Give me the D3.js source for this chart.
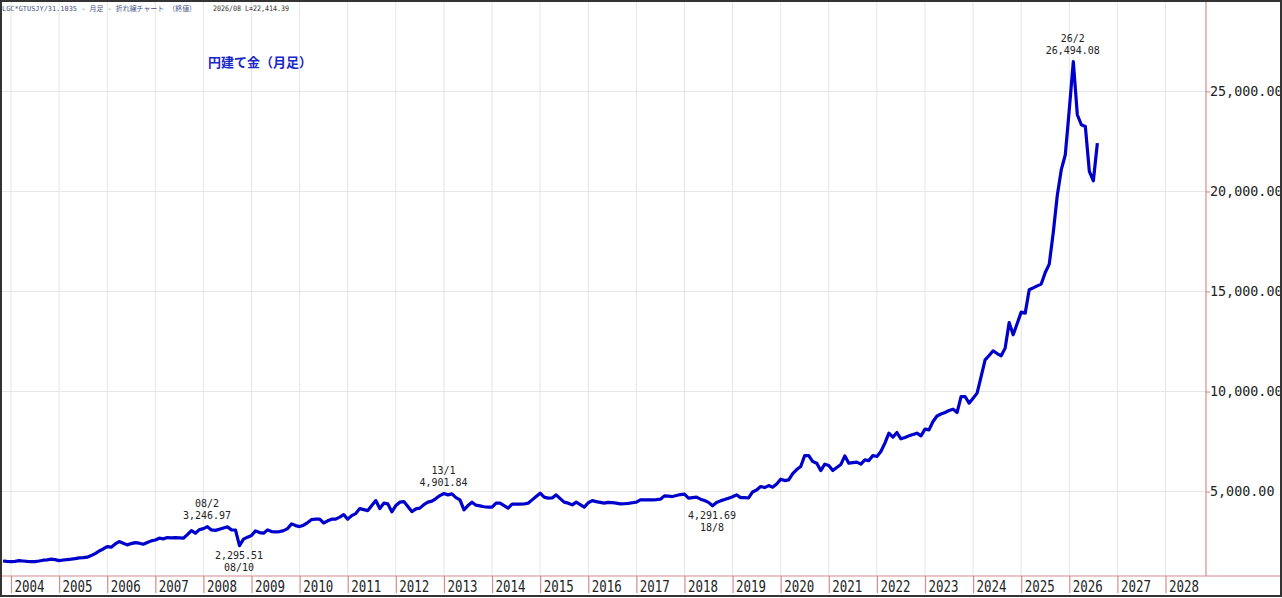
<!DOCTYPE html>
<html>
<head>
<meta charset="utf-8">
<script src="https://cdn.jsdelivr.net/npm/d3@7"></script>
<style>
  body { margin: 0; background: #fff; }
</style>
</head>
<body>
<svg width="1282" height="598"></svg>
<script>
// 月足終値 (円/g)、2003/11 から 2026/08 まで
const firstYear = 2003, firstMonth = 11;
const closes = [
  1530, 1510,
  1500, 1510, 1550, 1530, 1510, 1500, 1500, 1530, 1570, 1590, 1620, 1600, // 2004
  1550, 1580, 1600, 1620, 1650, 1685, 1700, 1720, 1800, 1900, 2030, 2130, // 2005
  2250, 2220, 2380, 2500, 2420, 2335, 2400, 2450, 2420, 2370, 2450, 2535, // 2006
  2580, 2670, 2635, 2700, 2690, 2700, 2690, 2670, 2850, 3050, 2920, 3100, // 2007
  3150, 3247, 3085, 3060, 3120, 3180, 3235, 3085, 3080, 2296, 2620, 2720, // 2008
  2800, 3035, 2950, 2920, 3085, 3000, 2990, 3000, 3050, 3150, 3385, 3300, // 2009
  3250, 3320, 3450, 3600, 3620, 3620, 3430, 3540, 3620, 3620, 3720, 3850, // 2010
  3620, 3800, 3900, 4150, 4100, 4050, 4300, 4550, 4150, 4420, 4385, 3985, // 2011
  4300, 4470, 4500, 4250, 4000, 4135, 4170, 4350, 4470, 4520, 4650, 4800, // 2012
  4902, 4835, 4885, 4700, 4585, 4085, 4300, 4470, 4320, 4285, 4240, 4220, // 2013
  4220, 4420, 4420, 4300, 4170, 4370, 4370, 4370, 4380, 4420, 4585, 4750, // 2014
  4920, 4720, 4670, 4680, 4835, 4650, 4470, 4420, 4335, 4470, 4350, 4220, // 2015
  4440, 4550, 4500, 4460, 4420, 4460, 4450, 4420, 4385, 4390, 4410, 4440, // 2016
  4470, 4585, 4585, 4590, 4585, 4600, 4620, 4785, 4770, 4750, 4800, 4850, // 2017
  4870, 4670, 4700, 4720, 4620, 4550, 4460, 4292, 4450, 4535, 4600, 4670, // 2018
  4740, 4835, 4700, 4700, 4680, 4980, 5080, 5250, 5200, 5300, 5220, 5380, // 2019
  5620, 5550, 5585, 5900, 6100, 6250, 6800, 6800, 6500, 6420, 6050, 6370, // 2020
  6300, 6050, 6200, 6350, 6785, 6420, 6450, 6470, 6370, 6585, 6550, 6800, // 2021
  6750, 7000, 7420, 7920, 7720, 7950, 7635, 7700, 7785, 7850, 7920, 7785, // 2022
  8120, 8085, 8500, 8780, 8880, 8950, 9050, 9120, 8950, 9750, 9750, 9420, // 2023
  9665, 9920, 10750, 11585, 11800, 12035, 11900, 11785, 12170, 13450, 12835, 13400, // 2024
  13970, 13920, 15085, 15180, 15280, 15370, 15950, 16370, 17950, 19800, 21085, 21835, // 2025
  24100, 26494, 23835, 23335, 23250, 21000, 20535, 22414 // 2026
];
const yearTicks = d3.range(2004, 2029);
const priceTicks = [5000, 10000, 15000, 20000, 25000];
// 高値・安値の注記
const noteDates = ["08/2", "08/10", "13/1", "18/8", "26/2"];
const noteValues = [3246.97, 2295.51, 4901.84, 4291.69, 26494.08];
const noteSides = ["up", "down", "up", "down", "up"];

const headerText = "LGC*GTUSJY/31.1035 - 月足 - 折れ線チャート （終値）";
const headerLast = "2026/08 L=22,414.39";
const titleText = "円建て金（月足）";

const svg = d3.select("svg");
const plotL = 2, plotR = 1206, plotT = 2, plotB = 576;
const red = "#d48c8c";

// 2004年1月 = 0 の月番号
const monthIndex = (yr, m) => (yr - 2004) * 12 + (m - 1);
const offset = monthIndex(firstYear, firstMonth);

const x = d3.scaleLinear().domain([-2.245, 298.1]).range([plotL, plotR]);
const y = d3.scaleLinear().domain([780, 29470]).range([plotB, plotT]);

// グリッド
svg.append("g").selectAll("line")
  .data(yearTicks).enter().append("line")
  .attr("x1", d => x(monthIndex(d, 1))).attr("x2", d => x(monthIndex(d, 1)))
  .attr("y1", plotT).attr("y2", plotB)
  .attr("stroke", "#e6e6e6").attr("stroke-width", 1);
svg.append("g").selectAll("line")
  .data(priceTicks).enter().append("line")
  .attr("x1", plotL).attr("x2", plotR)
  .attr("y1", d => y(d)).attr("y2", d => y(d))
  .attr("stroke", "#e6e6e6").attr("stroke-width", 1);

// 枠線
svg.append("line").attr("x1", plotR).attr("x2", plotR).attr("y1", 0).attr("y2", plotB)
  .attr("stroke", red).attr("stroke-width", 1.2);
svg.append("line").attr("x1", 0).attr("x2", 1282).attr("y1", plotB).attr("y2", plotB)
  .attr("stroke", red).attr("stroke-width", 1.2);

// X軸 (年)
const xAxis = svg.append("g")
  .attr("transform", `translate(0, ${plotB})`)
  .call(d3.axisBottom(x)
    .tickValues(yearTicks.map(d => monthIndex(d, 1)))
    .tickSize(17)
    .tickFormat((d, i) => yearTicks[i]));
xAxis.select(".domain").remove();
xAxis.selectAll(".tick line").attr("stroke", red).attr("stroke-width", 1.2);
xAxis.selectAll(".tick text")
  .attr("x", 3).attr("y", 5).attr("dy", "0.71em")
  .attr("text-anchor", "start")
  .attr("textLength", 30).attr("lengthAdjust", "spacingAndGlyphs")
  .style("font-family", "'DejaVu Sans Mono', monospace")
  .style("font-size", "15px").attr("fill", "#222");

// Y軸 (右)
const yAxis = svg.append("g")
  .attr("transform", `translate(${plotR}, 0)`)
  .call(d3.axisRight(y)
    .tickValues(priceTicks)
    .tickSize(4).tickPadding(0)
    .tickFormat(d3.format(",.2f")));
yAxis.select(".domain").remove();
yAxis.selectAll(".tick line").attr("stroke", "#b88").attr("stroke-width", 1);
yAxis.selectAll(".tick text")
  .style("font-family", "'DejaVu Sans Mono', monospace")
  .style("font-size", "13.4px").attr("fill", "#222");

// 折れ線
svg.append("clipPath").attr("id", "plot")
  .append("rect").attr("x", plotL).attr("y", plotT)
  .attr("width", plotR - plotL).attr("height", plotB - plotT);
const line = d3.line()
  .x((d, k) => x(k + offset))
  .y(d => y(d));
svg.append("path")
  .datum(closes)
  .attr("clip-path", "url(#plot)")
  .attr("d", line)
  .attr("fill", "none")
  .attr("stroke", "#0000cc")
  .attr("stroke-width", 3.2)
  .attr("stroke-linejoin", "round");

// 注記
const fmt = d3.format(",.2f");
noteDates.forEach((dt, i) => {
  const parts = dt.split("/");
  const yr = 2000 + (+parts[0]), mo = +parts[1];
  const px = x(monthIndex(yr, mo)) - 0.5;
  const py = y(noteValues[i]);
  const lines = noteSides[i] === "up"
    ? [[dt, py - 19.5], [fmt(noteValues[i]), py - 8]]
    : [[fmt(noteValues[i]), py + 13], [dt, py + 25]];
  lines.forEach(([t, ty]) => {
    svg.append("text")
      .attr("x", px).attr("y", ty)
      .attr("text-anchor", "middle")
      .attr("textLength", t.length * 6).attr("lengthAdjust", "spacingAndGlyphs")
      .style("font-family", "'DejaVu Sans Mono', monospace")
      .style("font-size", "11px")
      .attr("fill", "#222")
      .text(t);
  });
});

// 見出し
svg.append("text")
  .attr("x", 2).attr("y", 11)
  .attr("textLength", 194).attr("lengthAdjust", "spacingAndGlyphs")
  .style("font-family", "'DejaVu Sans Mono', 'Noto Sans CJK JP', monospace")
  .style("font-size", "7px").attr("fill", "#46518a")
  .text(headerText);
svg.append("text")
  .attr("x", 213).attr("y", 11)
  .attr("textLength", 76).attr("lengthAdjust", "spacingAndGlyphs")
  .style("font-family", "'DejaVu Sans Mono', monospace")
  .style("font-size", "7.5px").attr("fill", "#333")
  .text(headerLast);

svg.append("text")
  .attr("x", 208).attr("y", 67)
  .style("font-family", "'Noto Sans CJK JP', sans-serif")
  .style("font-size", "13px").style("font-weight", "bold")
  .attr("fill", "#1a26c8")
  .text(titleText);

// 外枠
svg.append("rect")
  .attr("x", 1).attr("y", 1).attr("width", 1280).attr("height", 595)
  .attr("fill", "none").attr("stroke", "#333").attr("stroke-width", 2);
</script>
</body>
</html>
